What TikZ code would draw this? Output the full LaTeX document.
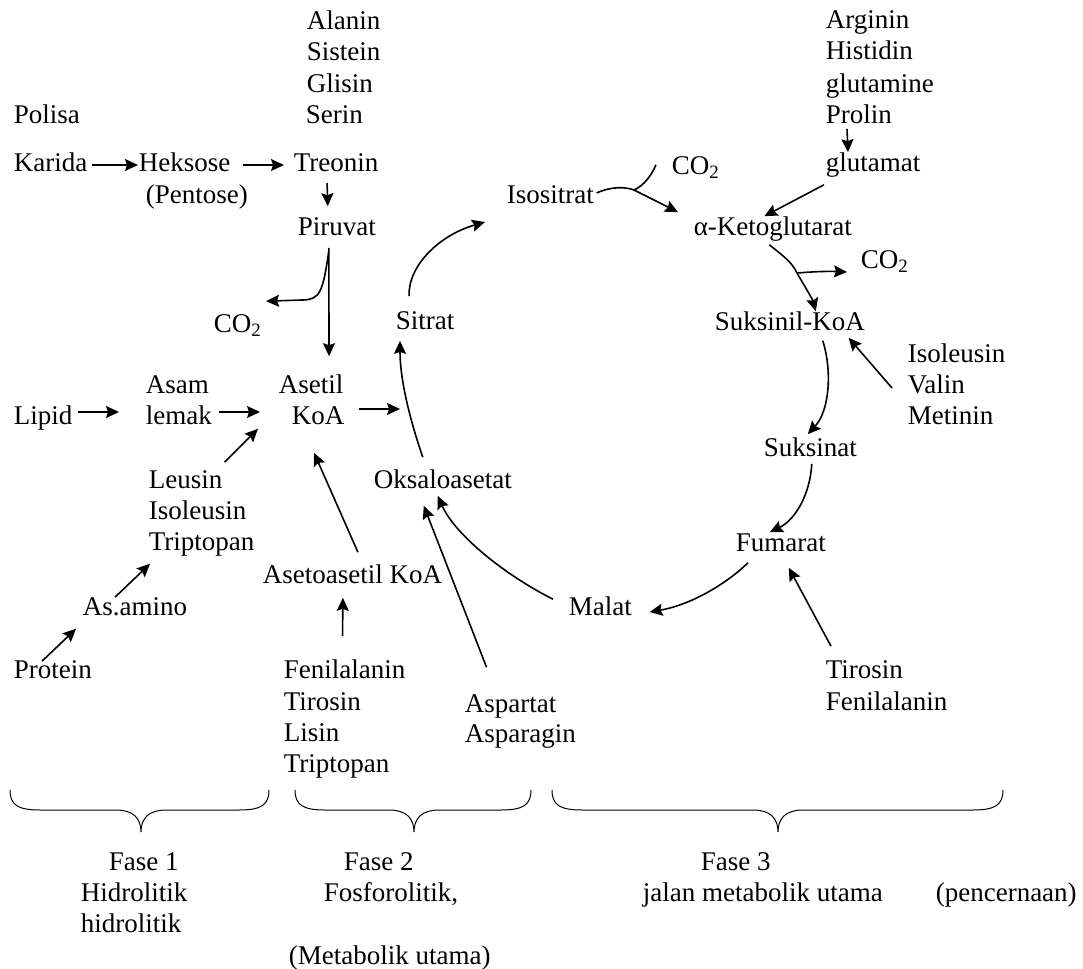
\documentclass[tikz,border=0pt]{standalone}
\usepackage{fontspec}
\setmainfont{Liberation Serif}
\usepackage{tikz}
\usetikzlibrary{arrows.meta}
\tikzset{>={Stealth[length=6.5pt,width=6pt,inset=1pt]}}
\tikzset{lbl/.style={anchor=base west, inner sep=0pt, text height=9pt, text depth=3pt, font=\fontsize{13.5}{16}\selectfont}}

\begin{document}
\begin{tikzpicture}[>={Stealth[length=6.5pt,width=6pt,inset=1pt]}, line width=0.8pt, x=0.5pt, y=-0.5pt, every node/.style={lbl}]
            \useasboundingbox (0,0) rectangle (1083,969);
            % left column
            \node (Ala) at (306,29) {Alanin};
            \node (Sis) at (306,61) {Sistein};
            \node (Gli) at (306,92) {Glisin};
            \node (Ser) at (305,123) {Serin};
            \node (Pol) at (13,123) {Polisa};
            \node (Kar) at (13,171) {Karida};
            \node (Hek) at (138,171) {Heksose};
            \node (Pen) at (145,203) {(Pentose)};
            \node (Tre) at (293,171) {Treonin};
            \node (Pir) at (297,235) {Piruvat};
            \node (CO2L) at (213,332) {CO\textsubscript{2}};
            \node (Ase) at (278,393) {Asetil};
            \node (KoA) at (291,424) {KoA};
            \node (Lip) at (13,424) {Lipid};
            \node (Asa) at (145,393) {Asam};
            \node (Lem) at (145,424) {lemak};
            \node (Leu) at (148,488) {Leusin};
            \node (Iso) at (148,519) {Isoleusin};
            \node (Tri) at (148,550) {Triptopan};
            \node (Ami) at (82,615) {As.amino};
            \node (Pro) at (13,678) {Protein};
            \node (Aso) at (262,583) {Asetoasetil KoA};
            \node (Fen) at (283,678) {Fenilalanin};
            \node (Tir) at (283,710) {Tirosin};
            \node (Lis) at (283,741) {Lisin};
            \node (Trp) at (283,772) {Triptopan};
            % cycle
            \node (Sit) at (395,329) {Sitrat};
            \node (Oks) at (373,488) {Oksaloasetat};
            \node (Asp) at (464,712) {Aspartat};
            \node (Apg) at (464,742) {Asparagin};
            \node (Mal) at (568,615) {Malat};
            \node (IsoS) at (506,203) {Isositrat};
            \node (CO2T) at (671,174) {CO\textsubscript{2}};
            \node (Arg) at (825,28) {Arginin};
            \node (His) at (825,60) {Histidin};
            \node (Glm) at (825,92) {glutamine};
            \node (Prl) at (825,123) {Prolin};
            \node (Glt) at (825,171) {glutamat};
            \node (Akg) at (693,235) {α-Ketoglutarat};
            \node (CO2R) at (860,268) {CO\textsubscript{2}};
            \node (Suk) at (714,330) {Suksinil-KoA};
            \node (IsoR) at (907,362) {Isoleusin};
            \node (Val) at (907,393) {Valin};
            \node (Met) at (907,424) {Metinin};
            \node (Sks) at (763,456) {Suksinat};
            \node (Fum) at (735,551) {Fumarat};
            \node (TirR) at (825,678) {Tirosin};
            \node (FenR) at (825,710) {Fenilalanin};
            % phases
            \node (F1) at (108,870) {Fase 1};
            \node (Hid) at (80,901) {Hidrolitik};
            \node (Hid2) at (80,932) {hidrolitik};
            \node (F2) at (343,870) {Fase 2};
            \node (Fos) at (323,901) {Fosforolitik,};
            \node (Mut) at (288,964) {(Metabolik utama)};
            \node (F3) at (700,870) {Fase 3};
            \node (Jal) at (642,901) {jalan metabolik utama};
            \node (Pnc) at (935,901) {(pencernaan)};
            \coordinate (Ent) at (400,409);
            \coordinate (Jn1) at (634,190);
            \coordinate (Jn2) at (797,273);

            \draw [->] ([shift={(4,0)}]Kar.east)--(Hek.west);
            \draw [->] ([shift={(11.5,0)}]Hek.east)--([shift={(-9,0)}]Tre.west);
            \draw [->] ([shift={(-9,5)}]Tre.south)--([shift={(-9,-10)}]Pir.north);
            \draw [->] ([shift={(-8,6)}]Pir.south)--([shift={(18,-18)}]Ase.north);
            \draw [->] ([shift={(-8,9)}]Pir.south) .. controls (323,292) and (320,300) .. (302,300)--([shift={(3.5,-12)}]CO2L.north east);
            \draw [->] ([shift={(4.5,-6)}]Lip.east)--([shift={(-26,-6)}]Lem.west);
            \draw [->] ([shift={(6,-6)}]Lem.east)--([shift={(-31,-6)}]KoA.west);
            \draw [->] ([shift={(1.5,-7)}]Leu.north east)--([shift={(-33,-2)}]KoA.south west);
            \draw [->] ([shift={(33,1)}]Ami.north west)--([shift={(2,7)}]Tri.south west);
            \draw [->] ([shift={(29,2)}]Pro.north west)--([shift={(-6,7)}]Ami.south west);
            \draw [->] ([shift={(5.5,-12)}]Aso.north)--([shift={(-4,22)}]KoA.south);
            \draw [->] ([shift={(-2,-23)}]Fen.north)--([shift={(-9.5,8)}]Aso.south);
            \draw [->] ([shift={(13.5,-9)}]KoA.east)--(Ent);
            \draw [->] ([shift={(-16,-14)}]Sit.north) .. controls (408,265) and (440,235) .. ([shift={(-21,25)}]IsoS.west);
            \draw [->] ([shift={(-20,-12)}]Oks.north) .. controls (410,420) and (400,380) .. ([shift={(5,5)}]Sit.south west);
            \draw [->] ([shift={(-24,-26)}]Asp.north)--([shift={(-19,11)}]Oks.south);
            \draw [->] ([shift={(-15,3)}]Mal.north west) .. controls (505,575) and (455,535) .. ([shift={(-5,1)}]Oks.south);
            \draw [->] ([shift={(13,5)}]Fum.south west) .. controls (725,585) and (690,605) .. ([shift={(17,3)}]Mal.east);
            \draw [->] ([shift={(6,-13)}]TirR.north west)--([shift={(8,10)}]Fum.south);
            \draw [->] ([shift={(1.5,1)}]Sks.south) .. controls (810,495) and (795,520) .. ([shift={(-11,0)}]Fum.north);
            \draw [->] ([shift={(33,4)}]Suk.south) .. controls (832,370) and (830,410) .. ([shift={(-2.5,-3)}]Sks.north);
            \draw [->] ([shift={(-15,1)}]Val.west)--([shift={(-17,1)}]Suk.south east);
            \draw [->] ([shift={(2,-4)}]IsoS.east) .. controls (612,186) and (626,187) .. (Jn1) .. controls (648,197) and (664,205) .. ([shift={(-15,-4)}]Akg.north west);
            \draw (Jn1) .. controls (645,185) and (652,174) .. ([shift={(-15,-16)}]CO2T.south west);
            \draw [->] ([shift={(22,-1)}]Prl.south west)--([shift={(23,0)}]Glt.north west);
            \draw [->] ([shift={(-1,7)}]Glt.south west)--([shift={(-8.5,0)}]Akg.north);
            \draw [->] ([shift={(-3.5,3)}]Akg.south) .. controls (782,255) and (792,262) .. (Jn2) .. controls (805,287) and (812,298) .. ([shift={(26,0)}]Suk.north);
            \draw [->] (Jn2) .. controls (810,272) and (825,271) .. ([shift={(-13,10)}]CO2R.west);

            \foreach \a/\m/\b in {10/141/269, 295/414/531, 552/778/1003}
              \draw[line width=0.5pt] (\a,790) .. controls (\a,805) and (\a+8,810) .. (\a+30,810)--(\m-25,810) .. controls (\m-8,810) and (\m,818) .. (\m,832) .. controls (\m,818) and (\m+8,810) .. (\m+25,810)--(\b-30,810) .. controls (\b-8,810) and (\b,805) .. (\b,790);
            \end{tikzpicture}
\end{document}
